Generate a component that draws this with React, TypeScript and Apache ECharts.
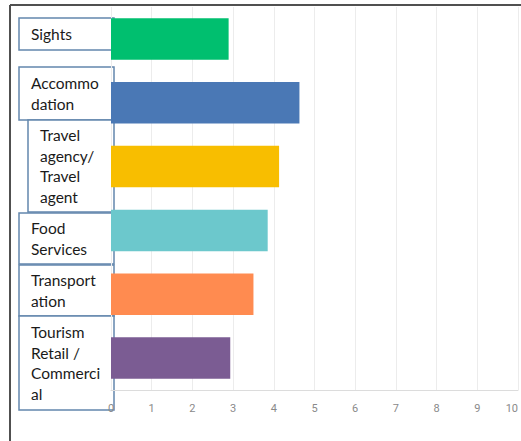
import React, { useEffect, useRef } from "react";
import * as echarts from "echarts";

const categories = [
  "Sights",
  "Accommodation",
  "Travel agency/Travel agent",
  "Food Services",
  "Transportation",
  "Tourism Retail / Commercial",
];
const values = [2.89, 4.63, 4.13, 3.85, 3.5, 2.93];
const barColors = ["#00BF6F", "#4A78B5", "#F8BE00", "#6CC8CC", "#FF8B50", "#7B5C93"];
const labelLines = [
  ["Sights"],
  ["Accommo", "dation"],
  ["Travel", "agency/", "Travel", "agent"],
  ["Food", "Services"],
  ["Transport", "ation"],
  ["Tourism", "Retail /", "Commerci", "al"],
];
const xTicks = [0, 1, 2, 3, 4, 5, 6, 7, 8, 9, 10];

// label box layout (decoration only)
const boxes = [
  { x: 19, y: 18, w: 95, h: 32 },
  { x: 19, y: 67, w: 95, h: 53 },
  { x: 28, y: 120, w: 86, h: 92 },
  { x: 19, y: 213, w: 95, h: 51 },
  { x: 19, y: 265, w: 95, h: 51 },
  { x: 19, y: 316, w: 95, h: 94 },
];

export default function App() {
  const ref = useRef<HTMLDivElement>(null);
  useEffect(() => {
    if (!ref.current) return;
    const chart = echarts.init(ref.current, null, { renderer: "svg" });
    const graphics: any[] = [
      {
        type: "line",
        shape: { x1: 10, y1: 5, x2: 521, y2: 5 },
        style: { stroke: "#505050", lineWidth: 2 },
        z: 10,
      },
      {
        type: "line",
        shape: { x1: 10, y1: 5, x2: 10, y2: 441 },
        style: { stroke: "#505050", lineWidth: 2 },
        z: 10,
      },
    ];
    boxes.forEach((b, i) => {
      const lines = labelLines[i];
      const lh = 20.5;
      const textH = lines.length * lh;
      graphics.push({
        type: "group",
        z: 20,
        children: [
          {
            type: "rect",
            shape: { x: b.x, y: b.y, width: b.w, height: b.h },
            style: { fill: "#ffffff", stroke: "#6387AD", lineWidth: 1.5 },
          },
          {
            type: "text",
            x: b.x + 12,
            y: b.y + b.h / 2 - textH / 2,
            style: {
              text: lines.join("\n"),
              font: "15.5px Lato",
              fill: "#1a1a1a",
              lineHeight: lh,
              textVerticalAlign: "top",
            },
          },
        ],
      });
    });
    chart.setOption({
      animation: false,
      grid: { left: 111, right: 3, top: 7, bottom: 51, containLabel: false, outerBoundsMode: "none" },
      xAxis: {
        type: "value",
        min: xTicks[0],
        max: xTicks[xTicks.length - 1],
        interval: 1,
        axisLabel: {
          color: "#8a8a8a",
          fontSize: 11,
          margin: 13,
          fontFamily: "Roboto",
          alignMaxLabel: "right",
        },
        axisLine: { show: true, lineStyle: { color: "#dcdcdc", width: 1 } },
        axisTick: { show: false },
        splitLine: { show: true, lineStyle: { color: "#ececec", width: 1 } },
      },
      yAxis: {
        type: "category",
        inverse: true,
        data: categories,
        axisLabel: { show: false },
        axisLine: { show: false },
        axisTick: { show: false },
        splitLine: { show: false },
      },
      series: [
        {
          type: "bar",
          data: values.map((v, i) => ({ value: v, itemStyle: { color: barColors[i] } })),
          barCategoryGap: "35%",
        },
      ],
      graphic: graphics,
    });
    return () => chart.dispose();
  }, []);
  return (
    <div
      ref={ref}
      style={{ position: "fixed", left: 0, top: 0, width: 521, height: 441, background: "#fff" }}
    />
  );
}
